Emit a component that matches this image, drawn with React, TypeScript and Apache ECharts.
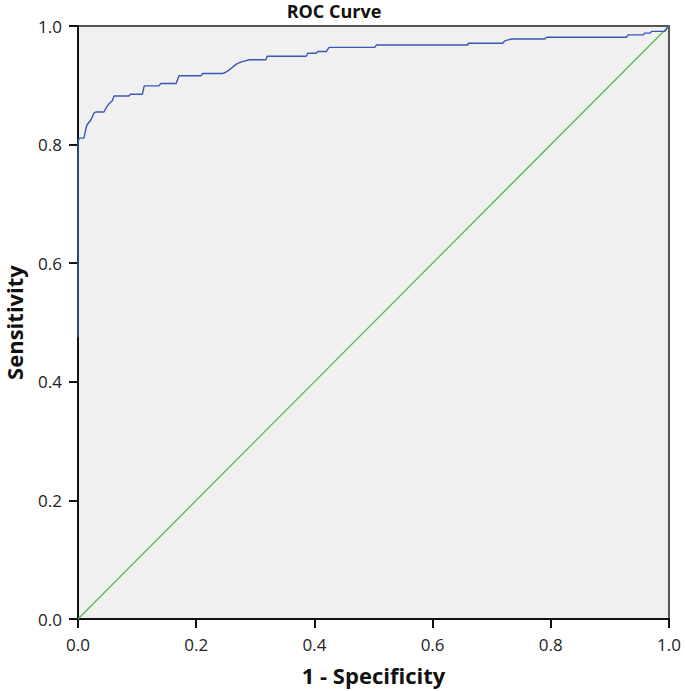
import React, { useEffect, useRef } from "react";
import * as echarts from "echarts";

// 1 - Specificity (false positive rate)
const fpr = [0, 0, 0.0017, 0.010, 0.013, 0.015, 0.0215, 0.027, 0.030, 0.044, 0.047, 0.0525, 0.058, 0.061, 0.086, 0.089, 0.109, 0.112, 0.137, 0.140, 0.166, 0.171, 0.208, 0.211, 0.245, 0.250, 0.256, 0.262, 0.270, 0.278, 0.290, 0.318, 0.320, 0.386, 0.389, 0.403, 0.406, 0.420, 0.425, 0.502, 0.505, 0.660, 0.660, 0.719, 0.722, 0.733, 0.790, 0.793, 0.928, 0.931, 0.956, 0.959, 0.968, 0.971, 0.993, 0.999, 1.0];
// Sensitivity (true positive rate)
const tpr = [0.475, 0.803, 0.811, 0.811, 0.825, 0.833, 0.841, 0.853, 0.855, 0.855, 0.861, 0.869, 0.874, 0.882, 0.882, 0.885, 0.885, 0.899, 0.899, 0.903, 0.903, 0.916, 0.916, 0.920, 0.920, 0.922, 0.926, 0.931, 0.937, 0.940, 0.943, 0.943, 0.949, 0.949, 0.954, 0.954, 0.957, 0.957, 0.964, 0.964, 0.968, 0.968, 0.971, 0.971, 0.975, 0.978, 0.978, 0.981, 0.981, 0.985, 0.985, 0.988, 0.988, 0.991, 0.991, 1.0, 1.0];
const refX = [0, 1];
const refY = [0, 1];

const TITLE = "ROC Curve";
const X_NAME = "1 - Specificity";
const Y_NAME = "Sensitivity";

export default function App() {
  const ref = useRef<HTMLDivElement>(null);
  useEffect(() => {
    const chart = echarts.init(ref.current!, undefined, { renderer: "svg" });
    const font = "'Open Sans', 'DejaVu Sans', sans-serif";
    chart.setOption({
      animation: false,
      backgroundColor: "#ffffff",
      grid: {
        left: 78,
        right: 16,
        top: 26,
        bottom: 72,
        outerBoundsMode: "none",
        containLabel: false,
        show: true,
        backgroundColor: "#f0f0f0",
        borderColor: "#555555",
        borderWidth: 2,
      },
      graphic: [
        {
          type: "text",
          x: 334,
          y: 2,
          style: {
            text: TITLE,
            textAlign: "center",
            textVerticalAlign: "top",
            fontFamily: font,
            fontWeight: "bold",
            fontSize: 18,
            fill: "#111",
          },
        },
      ],
      xAxis: {
        type: "value",
        min: 0,
        max: 1,
        interval: 0.2,
        name: X_NAME,
        nameLocation: "middle",
        nameGap: 45,
        nameTextStyle: { fontFamily: font, fontWeight: "bold", fontSize: 22, color: "#111" },
        axisLine: { show: true, lineStyle: { color: "#111", width: 2 } },
        axisTick: { show: true, length: 9, lineStyle: { color: "#111", width: 2 } },
        axisLabel: {
          fontFamily: font,
          fontSize: 17,
          color: "#222",
          margin: 17,
          formatter: (v: number) => v.toFixed(1),
        },
        splitLine: { show: false },
      },
      yAxis: {
        type: "value",
        min: 0,
        max: 1,
        interval: 0.2,
        name: Y_NAME,
        nameLocation: "middle",
        nameGap: 53,
        nameRotate: 90,
        nameTextStyle: { fontFamily: font, fontWeight: "bold", fontSize: 22, color: "#111" },
        axisLine: { show: true, lineStyle: { color: "#111", width: 2 } },
        axisTick: { show: true, length: 9, lineStyle: { color: "#111", width: 2 } },
        axisLabel: {
          fontFamily: font,
          fontSize: 17,
          color: "#222",
          margin: 16,
          formatter: (v: number) => v.toFixed(1),
        },
        splitLine: { show: false },
      },
      series: [
        {
          type: "line",
          data: refX.map((x, i) => [x, refY[i]]),
          symbol: "none",
          lineStyle: { color: "#4cc04c", width: 1.3 },
          z: 2,
        },
        {
          type: "line",
          data: fpr.map((x, i) => [x, tpr[i]]),
          symbol: "none",
          lineStyle: { color: "#3b56b5", width: 1.4 },
          z: 3,
        },
      ],
    });
    return () => chart.dispose();
  }, []);
  return <div ref={ref} style={{ position: "absolute", left: 0, top: 0, width: 685, height: 691 }} />;
}
